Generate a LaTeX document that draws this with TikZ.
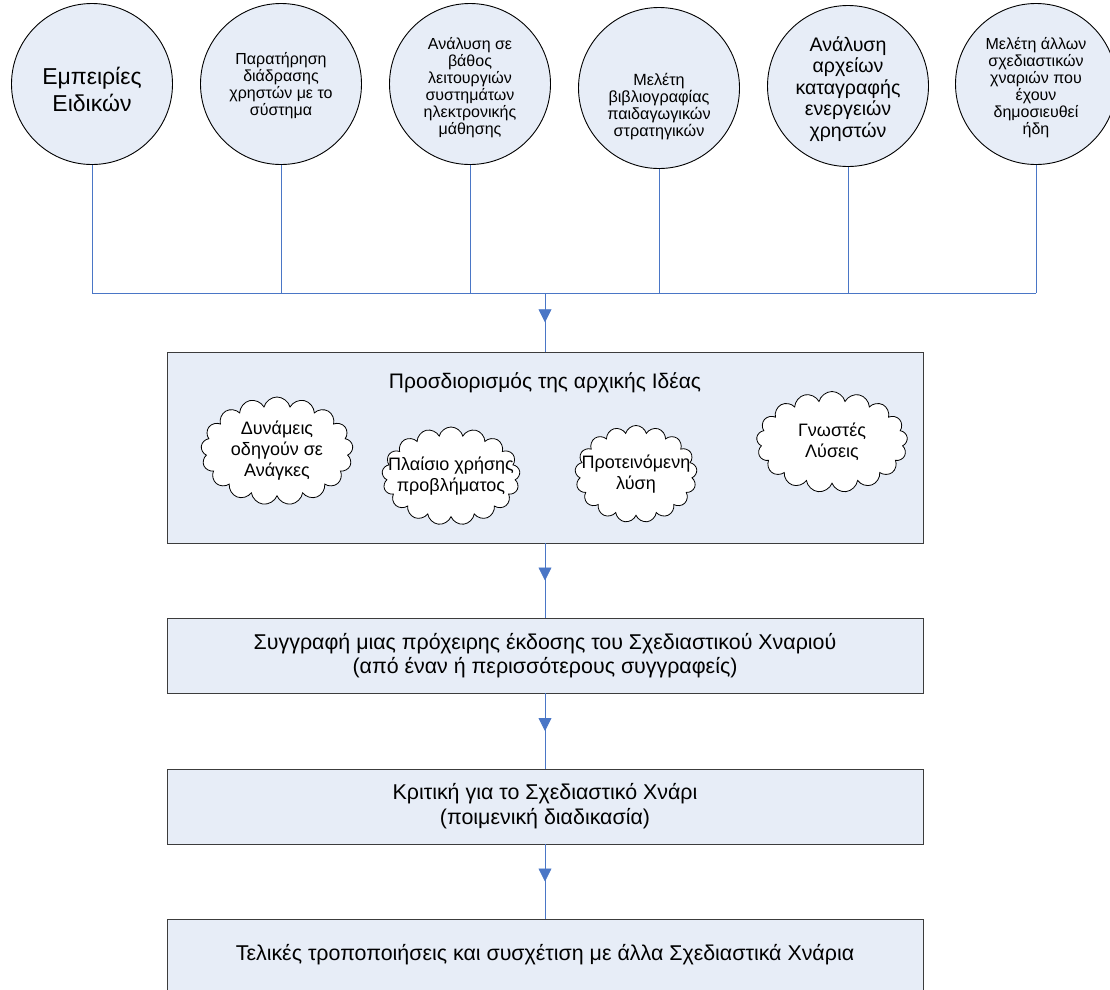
\documentclass[tikz,border=0pt]{standalone}
\usepackage{fontspec}
\setmainfont{Liberation Sans}
\usetikzlibrary{shapes.symbols,arrows.meta,decorations.markings}
\definecolor{fillblue}{HTML}{E7EDF7}
\definecolor{lineblue}{HTML}{4A76C6}
\definecolor{boxedge}{HTML}{3C3C3C}
\tikzset{
  circ/.style={circle,draw=black,line width=0.9pt,fill=fillblue,minimum size=161pt,inner sep=0pt},
  circtext/.style={align=center,inner sep=0pt},
  procbox/.style={rectangle,draw=boxedge,line width=0.9pt,fill=fillblue,minimum width=756pt,inner sep=0pt,align=center},
  puff/.style={cloud,cloud puffs=17,cloud ignores aspect,draw=black,line width=0.8pt,fill=white,inner sep=0pt},
  cloudtext/.style={align=center,inner sep=0pt,font=\fontsize{18}{21}\selectfont},
  wire/.style={draw=lineblue,line width=0.8pt},
  flow/.style={wire,postaction={decorate},decoration={markings,mark=at position 0.5 with {\arrow[lineblue]{Triangle[length=13pt,width=13pt]}}}}
}
\begin{document}
\begin{tikzpicture}[x=1pt,y=-1pt]
\useasboundingbox (0,0) rectangle (1110,989);
\begin{scope}
\clip (0,0) rectangle (1110,989);
% circles
\node[circ] (c1) at (92,84) {};
\node[circ] (c2) at (281,84) {};
\node[circ] (c3) at (470,84) {};
\node[circ] (c4) at (659,88) {};
\node[circ] (c5) at (848,86) {};
\node[circ] (c6) at (1036,84) {};
\node[circtext,font=\fontsize{23}{27}\selectfont] (c1t) at (92,89) {Εμπειρίες\\Ειδικών};
\node[circtext,font=\fontsize{16}{17}\selectfont] (c2t) at (281,86) {Παρατήρηση\\διάδρασης\\χρηστών με το\\σύστημα};
\node[circtext,font=\fontsize{16}{17}\selectfont] (c3t) at (470,88) {Ανάλυση σε\\βάθος\\λειτουργιών\\συστημάτων\\ηλεκτρονικής\\μάθησης};
\node[circtext,font=\fontsize{16.2}{17}\selectfont] (c4t) at (659,107) {Μελέτη\\βιβλιογραφίας\\παιδαγωγικών\\στρατηγικών};
\node[circtext,font=\fontsize{19.6}{21.5}\selectfont] (c5t) at (848,89) {Ανάλυση\\αρχείων\\καταγραφής\\ενεργειών\\χρηστών};
\node[circtext,font=\fontsize{16}{17}\selectfont] (c6t) at (1036,88) {Μελέτη άλλων\\σχεδιαστικών\\χναριών που\\έχουν\\δημοσιευθεί\\ήδη};
% boxes
\node[procbox,minimum height=191pt] (b1) at (545,447.5) {};
\node[font=\fontsize{21}{24}\selectfont,inner sep=0pt] (t1) at (545,383) {Προσδιορισμός της αρχικής Ιδέας};
\node[procbox,minimum height=75pt,font=\fontsize{21.4}{24}\selectfont] (b2) at (545,655.5) {Συγγραφή μιας πρόχειρης έκδοσης του Σχεδιαστικού Χναριού\\(από έναν ή περισσότερους συγγραφείς)};
\node[procbox,minimum height=75pt,font=\fontsize{21.4}{25}\selectfont] (b3) at (545,806.5) {Κριτική για το Σχεδιαστικό Χνάρι\\(ποιμενική διαδικασία)};
\node[procbox,minimum height=72pt,font=\fontsize{21.4}{24}\selectfont] (b4) at (545,955) {Τελικές τροποποιήσεις και συσχέτιση με άλλα Σχεδιαστικά Χνάρια};
% clouds
\node[puff,minimum width=152pt,minimum height=108pt] (k1) at (277,451) {};
\node[cloudtext] (k1t) at (k1.center) {Δυνάμεις\\οδηγούν σε\\Ανάγκες};
\node[puff,minimum width=138pt,minimum height=98pt] (k2) at (451,476) {};
\node[cloudtext] (k2t) at (k2.center) {Πλαίσιο χρήσης\\προβλήματος};
\node[puff,minimum width=122pt,minimum height=97pt] (k3) at (636,474) {};
\node[cloudtext] (k3t) at (k3.center) {Προτεινόμενη\\λύση};
\node[puff,minimum width=151pt,minimum height=101pt] (k4) at (832,442) {};
\node[cloudtext] (k4t) at (k4.center) {Γνωστές\\Λύσεις};
% bus
\coordinate (bus) at (545,293);
\foreach \c in {c1,c2,c3,c4,c5,c6} \draw[wire] (\c.south) -- (\c.south |- bus);
\draw[wire] (c1.south |- bus) -- (c6.south |- bus);
\draw[flow] (bus) -- (b1.north);
\draw[flow] (b1.south) -- (b2.north);
\draw[flow] (b2.south) -- (b3.north);
\draw[flow] (b3.south) -- (b4.north);
\end{scope}
\end{tikzpicture}
\end{document}
